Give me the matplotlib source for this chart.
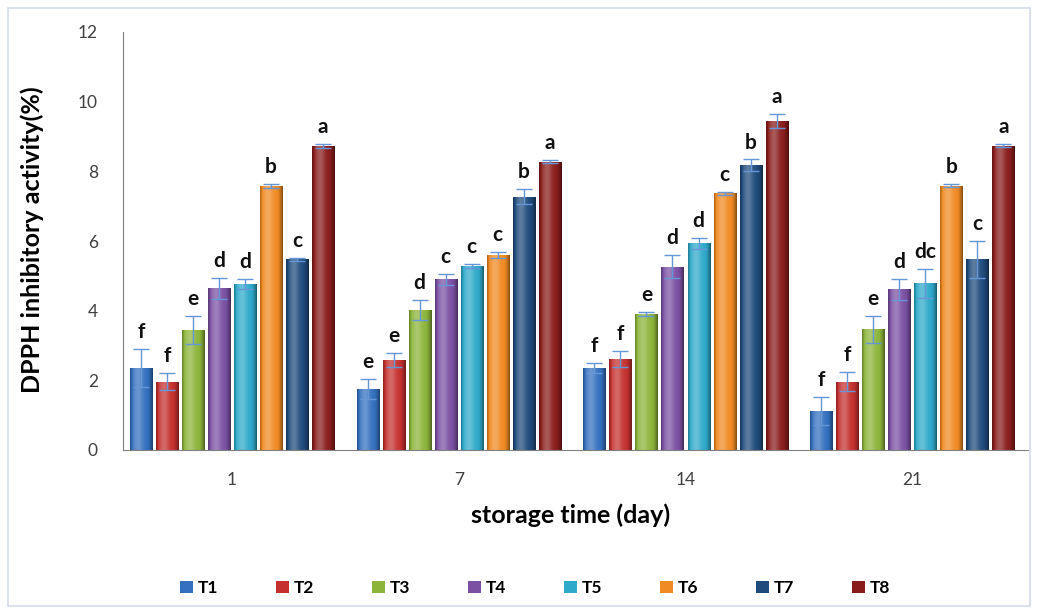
import numpy as np
import matplotlib
matplotlib.use("Agg")
import matplotlib.pyplot as plt
from matplotlib.patches import Patch, Rectangle
from matplotlib.colors import to_rgb

plt.rcParams['font.family'] = ['Lato', 'DejaVu Sans']

days = ["1", "7", "14", "21"]
treatments = ["T1", "T2", "T3", "T4", "T5", "T6", "T7", "T8"]

# mean DPPH inhibition (%) per treatment, one entry per storage day
T1 = [2.35, 1.75, 2.35, 1.13]
T2 = [1.96, 2.58, 2.61, 1.96]
T3 = [3.45, 4.02, 3.90, 3.46]
T4 = [4.64, 4.90, 5.26, 4.62]
T5 = [4.77, 5.28, 5.93, 4.78]
T6 = [7.58, 5.60, 7.37, 7.59]
T7 = [5.47, 7.27, 8.18, 5.47]
T8 = [8.73, 8.28, 9.45, 8.74]

# standard deviations
T1_sd = [0.55, 0.30, 0.15, 0.40]
T2_sd = [0.25, 0.20, 0.24, 0.27]
T3_sd = [0.40, 0.30, 0.05, 0.38]
T4_sd = [0.30, 0.15, 0.33, 0.30]
T5_sd = [0.15, 0.05, 0.15, 0.41]
T6_sd = [0.05, 0.08, 0.05, 0.05]
T7_sd = [0.05, 0.22, 0.16, 0.52]
T8_sd = [0.05, 0.05, 0.21, 0.05]

# significance letters
T1_sig = ["f", "e", "f", "f"]
T2_sig = ["f", "e", "f", "f"]
T3_sig = ["e", "d", "e", "e"]
T4_sig = ["d", "c", "d", "d"]
T5_sig = ["d", "c", "d", "dc"]
T6_sig = ["b", "c", "c", "b"]
T7_sig = ["c", "b", "b", "c"]
T8_sig = ["a", "a", "a", "a"]

means = [T1, T2, T3, T4, T5, T6, T7, T8]
sds = [T1_sd, T2_sd, T3_sd, T4_sd, T5_sd, T6_sd, T7_sd, T8_sd]
sigs = [T1_sig, T2_sig, T3_sig, T4_sig, T5_sig, T6_sig, T7_sig, T8_sig]

colors = ["#3470bf", "#c4312f", "#8cb43a", "#7b50a3", "#2ea9c9",
          "#f08a22", "#1f4b7c", "#8a1c1c"]

fig = plt.figure(figsize=(10.38, 6.14), dpi=100)
fig.patches.append(Rectangle((8 / 1038, 8 / 614), 1022 / 1038, 598 / 614,
                             transform=fig.transFigure, fill=False,
                             edgecolor="#d5dde8", linewidth=1.2))

ax = fig.add_axes([123 / 1038, 164 / 614, (1028 - 123) / 1038, 418 / 614])

slot = 0.1147
width = 0.097
xc = np.arange(len(days))


def shade(color):
    """Horizontal cylinder-like shading profile for a bar."""
    base = np.array(to_rgb(color))
    t = np.linspace(0, 1, 64)
    light = 1.0 + 0.30 * np.exp(-((t - 0.35) / 0.22) ** 2)
    dark = 1.0 - 0.45 * np.clip((t - 0.75) / 0.25, 0, 1) ** 1.5 \
               - 0.30 * np.clip((0.12 - t) / 0.12, 0, 1)
    prof = light * dark
    rgb = np.clip(base[None, :] * prof[:, None], 0, 1)
    rgb = np.where(prof[:, None] > 1, base + (1 - base) * (prof[:, None] - 1) * 0.9, rgb)
    return np.clip(rgb, 0, 1)[None, :, :]


for i, (vals, err, letters, col) in enumerate(zip(means, sds, sigs, colors)):
    x = xc + (i - 3.5) * slot
    bars = ax.bar(x, vals, width=width, color=col, edgecolor="none", zorder=2)
    grad = shade(col)
    for b in bars:
        x0 = b.get_x()
        im = ax.imshow(grad, extent=[x0, x0 + b.get_width(), 0, b.get_height()],
                       aspect="auto", interpolation="bilinear", zorder=2.1)
        im.set_clip_path(b)
    ax.errorbar(x, vals, yerr=err, fmt="none", ecolor="#6596d8",
                elinewidth=1.0, capsize=5.5, capthick=1.0, zorder=3)
    for xi, v, e, s in zip(x, vals, err, letters):
        ax.annotate(s, (xi, v + e), xytext=(0, 5), textcoords="offset points",
                    ha="center", va="bottom", fontsize=15, fontweight="bold",
                    color="#111111")

ax.set_xlim(-0.48, 3.51)
ax.set_ylim(0, 12)
ax.set_yticks(np.arange(0, 13, 2))
ax.set_xticks(xc)
ax.set_xticklabels(days)
ax.tick_params(axis="both", length=0, labelsize=12.5, labelcolor="#404040")
ax.tick_params(axis="y", pad=18)
ax.tick_params(axis="x", pad=16)
for side in ("top", "right"):
    ax.spines[side].set_visible(False)
ax.spines["left"].set_color("#808080")
ax.spines["bottom"].set_color("#808080")

fig.text(571 / 1038, 1 - 515 / 614, "storage time (day)", ha="center",
         va="center", fontsize=18, fontweight="bold")
fig.text(32 / 1038, 1 - 240 / 614, "DPPH inhibitory activity(%)", ha="center",
         va="center", rotation=90, fontsize=18, fontweight="bold")

handles = [Patch(facecolor=c, edgecolor="none") for c in colors]
fig.legend(handles, treatments, loc="center", bbox_to_anchor=(535 / 1038, 1 - 588 / 614),
           ncol=8, frameon=False, handlelength=0.75, handleheight=0.75,
           handletextpad=0.3, columnspacing=3.3,
           prop={"weight": "bold", "size": 12.5})

fig.savefig("out.png", dpi=100)
